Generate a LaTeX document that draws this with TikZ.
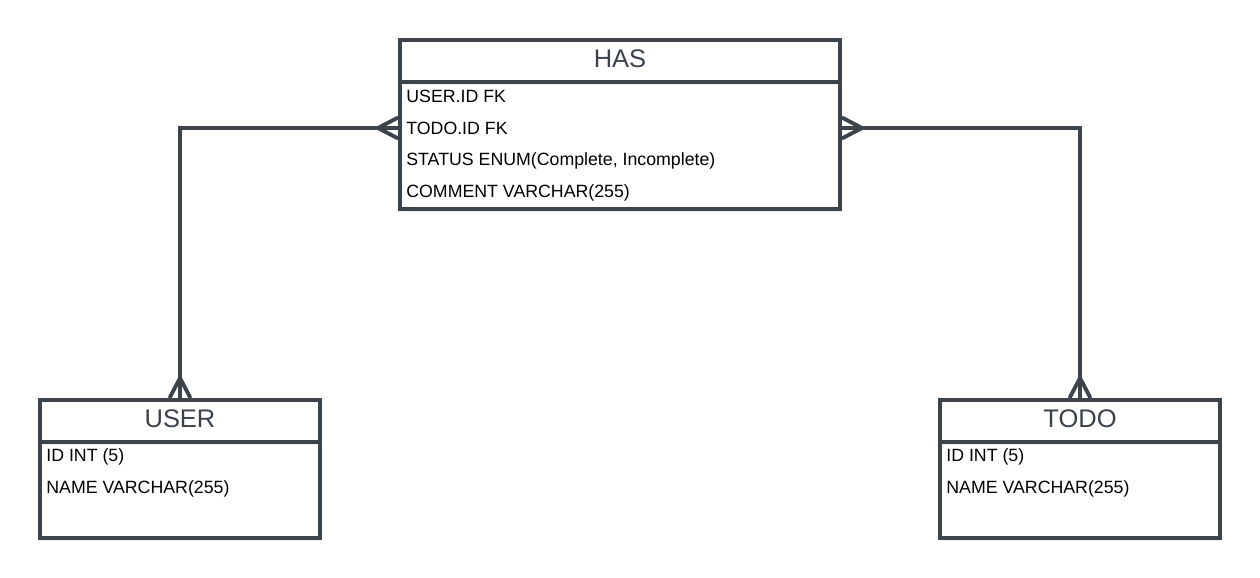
\documentclass[tikz,border=0pt]{standalone}
\usepackage{fontspec}
\setmainfont{Liberation Sans}
\usepackage{xcolor}
\usetikzlibrary{calc,shadows}
\definecolor{tdark}{HTML}{3D434B}
\definecolor{thead}{HTML}{3A414A}

% crow's foot at a named coordinate, opening towards it
\newcommand{\crowfoot}[2]{%
  \draw[link, shift={(#1)}, rotate=#2] (0,0.21) -- (-0.4,0) -- (0,-0.21);}

\begin{document}
\begin{tikzpicture}[
    box/.style={draw=tdark, line width=2.2pt, fill=white, inner sep=0pt,
                drop shadow={shadow xshift=0.02cm, shadow yshift=-0.06cm, opacity=0.12}},
    hdr/.style={box, text=thead, font=\fontsize{14.5}{16}\selectfont, minimum height=0.84cm,
                text height=0.37cm, text depth=0.12cm},
    fld/.style={anchor=west, inner sep=0pt, font=\fontsize{10.1}{12}\selectfont},
    link/.style={draw=tdark, line width=2.2pt}]

    \useasboundingbox (0,0) rectangle (25.2,-11.56);

    % --- HAS ----------------------------------------------------------
    \node[box, minimum width=8.8cm, minimum height=2.54cm] (hasBody) at (12.4,-2.91) {};
    \node[hdr, minimum width=8.8cm] (hasHead) at (12.4,-1.22) {HAS};
    \node[fld] (hasUser)    at (8.12,-1.93) {USER.ID FK};
    \node[fld] (hasTodo)    at (8.12,-2.57) {TODO.ID FK};
    \node[fld] (hasStatus)  at (8.12,-3.22) {STATUS ENUM(Complete, Incomplete)};
    \node[fld] (hasComment) at (8.12,-3.86) {COMMENT VARCHAR(255)};

    % --- USER ---------------------------------------------------------
    \node[box, minimum width=5.6cm, minimum height=1.92cm] (userBody) at (3.6,-9.8) {};
    \node[hdr, minimum width=5.6cm] (userHead) at (3.6,-8.42) {USER};
    \node[fld] (userId)   at (0.92,-9.14) {ID INT (5)};
    \node[fld] (userName) at (0.92,-9.78) {NAME VARCHAR(255)};

    % --- TODO ---------------------------------------------------------
    \node[box, minimum width=5.6cm, minimum height=1.92cm] (todoBody) at (21.6,-9.8) {};
    \node[hdr, minimum width=5.6cm] (todoHead) at (21.6,-8.42) {TODO};
    \node[fld] (todoId)   at (18.92,-9.14) {ID INT (5)};
    \node[fld] (todoName) at (18.92,-9.78) {NAME VARCHAR(255)};

    % --- relations ----------------------------------------------------
    \coordinate (hasL) at (hasBody.west |- 0,-2.56);
    \coordinate (hasR) at (hasBody.east |- 0,-2.56);
    \draw[link] (hasL) -| (userHead.north);
    \draw[link] (hasR) -| (todoHead.north);
    \crowfoot{hasL}{0}
    \crowfoot{hasR}{180}
    \crowfoot{userHead.north}{-90}
    \crowfoot{todoHead.north}{-90}
\end{tikzpicture}
\end{document}
